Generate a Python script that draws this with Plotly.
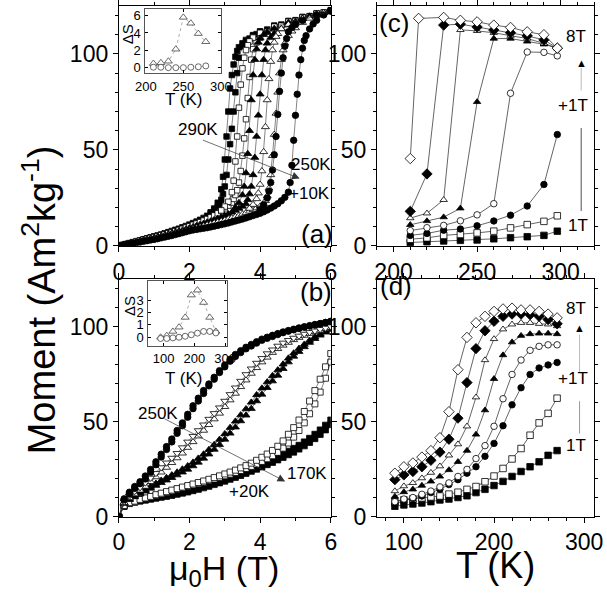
import plotly.graph_objects as go

FONT = "Liberation Sans, Arial, sans-serif"

# ---------------- panel (a): M(H) loops, 290K -> 250K ----------------
a_sq_up_h = [0.0, 0.1, 0.2, 0.3, 0.4, 0.5, 0.6, 0.7, 0.8, 0.9, 1.0, 1.1, 1.2, 1.3, 1.4, 1.5, 1.6, 1.7, 1.8, 1.9,
             2.0, 2.1, 2.2, 2.3, 2.4, 2.5, 2.6, 2.7, 2.8,
             2.85, 2.9, 2.95, 3.0, 3.05, 3.1, 3.15, 3.2, 3.25, 3.3, 3.35, 3.4,
             3.5, 3.6, 3.7, 3.8, 3.9, 4.0,
             4.2, 4.4, 4.6, 4.8, 5.0, 5.2, 5.4, 5.6, 5.8, 6.0]
a_sq_up_m = [0, 0.5, 1.0, 1.5, 2.0, 2.5, 3.0, 3.5, 4.0, 4.5, 5.0, 5.5, 6.0, 6.6, 7.2, 7.8, 8.4, 9.0, 9.7, 10.4,
             11.1, 11.9, 12.7, 13.6, 14.6, 15.7, 17.0, 18.6, 20.5,
             22, 24, 27, 31, 37, 45, 53, 61, 70, 80, 90, 98,
             104, 106.5, 108, 109.3, 110.3, 111.2,
             112.7, 114, 115.3, 116.5, 117.6, 118.7, 119.7, 120.7, 121.7, 122.6]
a_sq_dn_h = [6.0, 5.6, 5.2, 4.8, 4.4, 4.0, 3.8, 3.6, 3.5, 3.4, 3.35, 3.3, 3.25, 3.2, 3.15, 3.1, 3.05, 3.0, 2.95,
             2.9, 2.8, 2.7, 2.6]
a_sq_dn_m = [122.8, 121.2, 119.3, 117.2, 114.8, 111.8, 109.8, 107.3, 105.5, 103.5, 101.5, 98.5, 94.5, 89, 82,
             70, 57, 45, 36, 29.5, 22.5, 19.5, 17.5]

a_osq_up_h = [0.0, 0.1, 0.2, 0.3, 0.4, 0.5, 0.6, 0.7, 0.8, 0.9, 1.0, 1.1, 1.2, 1.3, 1.4, 1.5, 1.6, 1.7, 1.8, 1.9,
              2.0, 2.1, 2.2, 2.3, 2.4, 2.5, 2.6, 2.7, 2.8, 2.9, 3.0, 3.1, 3.2,
              3.25, 3.3, 3.35, 3.4, 3.45, 3.5, 3.55, 3.6, 3.65, 3.7, 3.75, 3.8,
              3.9, 4.0,
              4.2, 4.4, 4.6, 4.8, 5.0, 5.2, 5.4, 5.6, 5.8, 6.0]
a_osq_up_m = [0, 0.45, 0.9, 1.4, 1.85, 2.3, 2.8, 3.25, 3.7, 4.15, 4.6, 5.1, 5.6, 6.1, 6.6, 7.1, 7.7, 8.3, 8.9, 9.6,
              10.3, 11.0, 11.7, 12.4, 13.2, 14.0, 14.9, 15.9, 17.0, 18.2, 19.6, 21.0, 22.6,
              24.5, 26.5, 29, 33, 39, 47, 56, 66, 77, 88, 97, 102.5,
              106, 108.5,
              111.5, 113.2, 114.7, 116, 117.2, 118.3, 119.4, 120.5, 121.5, 122.4]
a_osq_dn_h = [6.0, 5.6, 5.2, 4.8, 4.4, 4.0, 3.8, 3.7, 3.65, 3.6, 3.55, 3.5, 3.45, 3.4, 3.35, 3.3, 3.25, 3.2, 3.1,
              3.0, 2.9]
a_osq_dn_m = [122.5, 121, 119, 116.8, 114.2, 111, 108.5, 106.5, 104.5, 102, 98, 92.5, 84, 72, 57, 44, 34, 28, 23,
              20.5, 18.5]

a_tri_up_h = [0.0, 0.1, 0.2, 0.3, 0.4, 0.5, 0.6, 0.7, 0.8, 0.9, 1.0, 1.1, 1.2, 1.3, 1.4, 1.5, 1.6, 1.7, 1.8, 1.9,
              2.0, 2.1, 2.2, 2.3, 2.4, 2.5, 2.6, 2.7, 2.8, 2.9, 3.0, 3.1, 3.2, 3.3, 3.4, 3.5, 3.6,
              3.65, 3.7, 3.75, 3.8, 3.85, 3.9, 3.95, 4.0, 4.05, 4.1, 4.15, 4.2,
              4.3, 4.4,
              4.6, 4.8, 5.0, 5.2, 5.4, 5.6, 5.8, 6.0]
a_tri_up_m = [0, 0.4, 0.85, 1.3, 1.7, 2.15, 2.6, 3.0, 3.4, 3.8, 4.2, 4.65, 5.1, 5.6, 6.1, 6.6, 7.1, 7.6, 8.1, 8.7,
              9.3, 9.9, 10.5, 11.1, 11.7, 12.3, 12.9, 13.6, 14.3, 15.0, 15.8, 16.6, 17.5, 18.5, 19.5, 20.6, 21.8,
              24, 27, 31, 37, 46, 57, 68, 79, 89, 97, 102, 105.5,
              108.5, 110.5,
              113, 115, 116.8, 118.3, 119.6, 120.7, 121.5, 122.2]
a_tri_dn_h = [6.0, 5.6, 5.2, 4.8, 4.4, 4.2, 4.1, 4.0, 3.95, 3.9, 3.85, 3.8, 3.75, 3.7, 3.65, 3.6, 3.55, 3.5, 3.4, 3.3]
a_tri_dn_m = [122, 120.5, 118.6, 116.3, 113.2, 111.3, 110, 108.2, 106, 102.5, 97, 89, 76, 60, 48, 38, 31, 26.5,
              22.5, 20]

a_otri_up_h = [0.0, 0.1, 0.2, 0.3, 0.4, 0.5, 0.6, 0.7, 0.8, 0.9, 1.0, 1.1, 1.2, 1.3, 1.4, 1.5, 1.6, 1.7, 1.8, 1.9,
               2.0, 2.1, 2.2, 2.3, 2.4, 2.5, 2.6, 2.7, 2.8, 2.9, 3.0, 3.1, 3.2, 3.3, 3.4, 3.5, 3.6, 3.7, 3.8, 3.9,
               4.0, 4.1,
               4.15, 4.2, 4.25, 4.3, 4.35, 4.4, 4.45, 4.5, 4.55, 4.6, 4.65, 4.7,
               4.8, 4.9, 5.0,
               5.2, 5.4, 5.6, 5.8, 6.0]
a_otri_up_m = [0, 0.38, 0.8, 1.2, 1.6, 2.0, 2.4, 2.8, 3.2, 3.55, 3.9, 4.3, 4.7, 5.15, 5.6, 6.05, 6.5, 6.95, 7.4, 7.9,
               8.4, 8.9, 9.4, 9.9, 10.4, 10.9, 11.4, 11.9, 12.4, 12.9, 13.4, 14.0, 14.6, 15.2, 15.8, 16.5, 17.2,
               18.0, 18.8, 19.7, 20.6, 21.6,
               23.5, 26, 30, 37, 47, 58, 69, 80, 90, 97, 102, 105.5,
               109.5, 111.8, 113.5,
               116.3, 118.5, 120.2, 121.4, 122.3]
a_otri_dn_h = [6.0, 5.6, 5.2, 4.8, 4.6, 4.5, 4.45, 4.4, 4.35, 4.3, 4.25, 4.2, 4.15, 4.1, 4.05, 4.0, 3.95, 3.9, 3.8,
               3.7]
a_otri_dn_m = [122.3, 120.5, 118.3, 115.3, 113, 110.5, 109, 106, 102, 96, 87, 76, 62, 49, 39, 32, 27.5, 24.5,
               21.5, 19.5]

a_circ_up_h = [0.0, 0.1, 0.2, 0.3, 0.4, 0.5, 0.6, 0.7, 0.8, 0.9, 1.0, 1.1, 1.2, 1.3, 1.4, 1.5, 1.6, 1.7, 1.8, 1.9,
               2.0, 2.1, 2.2, 2.3, 2.4, 2.5, 2.6, 2.7, 2.8, 2.9, 3.0, 3.1, 3.2, 3.3, 3.4, 3.5, 3.6, 3.7, 3.8, 3.9,
               4.0, 4.1, 4.2, 4.3, 4.4, 4.5, 4.6, 4.7, 4.8,
               4.85, 4.9, 4.95, 5.0, 5.05, 5.1, 5.15, 5.2, 5.25,
               5.3, 5.4, 5.5, 5.6, 5.8, 6.0]
a_circ_up_m = [0, 0.35, 0.7, 1.05, 1.4, 1.75, 2.05, 2.4, 2.75, 3.1, 3.4, 3.8, 4.2, 4.6, 5.0, 5.4, 5.9, 6.4, 6.9, 7.4,
               7.9, 8.3, 8.6, 8.9, 9.2, 9.5, 9.9, 10.3, 10.7, 11.1, 11.5, 12.0, 12.5, 13.0, 13.5, 14.0, 14.6, 15.2,
               15.8, 16.4, 17.0, 17.8, 18.7, 19.7, 20.8, 22.0, 23.5, 25.3, 28.0,
               33, 42, 55, 68, 79, 89, 97, 103, 107,
               109.5, 113, 115.6, 117.5, 120.3, 122.3]
a_circ_dn_h = [6.0, 5.6, 5.2, 5.0, 4.9, 4.8, 4.75, 4.7, 4.65, 4.6, 4.55, 4.5, 4.45, 4.4, 4.35, 4.3, 4.25, 4.2, 4.1,
               4.0]
a_circ_dn_m = [122.3, 120.2, 117.4, 115.3, 113.7, 111.5, 108, 104, 98, 90, 80.5, 68.5, 57, 47.5, 39.5, 33, 28.5,
               25, 21.5, 19]

# inset (a): entropy change
ins_a_t = [210, 220, 230, 240, 250, 260, 270, 280]
ins_a_tri = [0.48, 0.56, 0.74, 2.13, 5.8, 5.12, 3.93, 2.99]
ins_a_circ = [0.05, 0.05, 0.0, 0.0, 0.0, 0.05, 0.1, 0.2]

# ---------------- panel (b): M(H), 250K -> 170K ----------------
b_h = [0.0, 0.15, 0.3, 0.45, 0.6, 0.75, 0.9, 1.05, 1.2, 1.35, 1.5, 1.65, 1.8, 1.95, 2.1, 2.25, 2.4, 2.55, 2.7,
       2.85, 3.0, 3.15, 3.3, 3.45, 3.6, 3.75, 3.9, 4.05, 4.2, 4.35, 4.5, 4.65, 4.8, 4.95, 5.1, 5.25, 5.4, 5.55,
       5.7, 5.85, 6.0]
b_circ_up = [0, 9, 12, 15, 17.5, 20, 23.5, 27.5, 31.5, 35.5, 39.5, 44, 48, 52.5, 57, 61, 65, 69, 72.5, 76,
             79, 82, 84.5, 86.5, 88.5, 90, 91.5, 93, 94, 95, 96, 97, 97.8, 98.5, 99.2, 99.9, 100.5, 101.1, 101.7,
             102.3, 102.9]
b_circ_dn = [0, 9.5, 13, 16, 18.5, 21.5, 25, 29, 33, 37, 41, 45.5, 49.5, 54, 58.5, 62.5, 66.5, 70, 73.5, 77,
             80, 83, 85.5, 87.5, 89.3, 90.8, 92.2, 93.6, 94.6, 95.6, 96.5, 97.4, 98.1, 98.8, 99.5, 100.1, 100.7,
             101.3, 101.8, 102.4, 103]
b_otri_up = [0, 7.5, 10, 12, 14, 16, 18.5, 21, 23.5, 26, 28.5, 31, 33.5, 36.5, 39.5, 42.5, 45.5, 48.5, 51.5, 54.5,
             58, 61.5, 65, 68.5, 72, 75.5, 78.5, 81.5, 84, 86.5, 88.5, 90.3, 91.8, 93.2, 94.4, 95.5, 96.5, 97.4,
             98.2, 99, 99.7]
b_otri_dn = [0, 8, 11, 13.5, 15.5, 18, 20.5, 23, 26, 28.5, 31, 33.5, 36.5, 39.5, 42.5, 45.5, 48.5, 51.5, 54.5,
             57.5, 61, 64.5, 68, 71.5, 75, 78, 81, 83.5, 86, 88, 90, 91.6, 93, 94.2, 95.3, 96.3, 97.2, 98, 98.8,
             99.5, 100.2]
b_tri_up = [0, 7, 9, 10.5, 12, 13.5, 15, 16.5, 18, 19.3, 20.6, 22, 23.5, 25, 26.8, 28.7, 30.8, 33, 35.5, 38,
            40.8, 44, 47.2, 50.5, 53.5, 57, 61, 64.5, 68, 71.5, 74.5, 78, 81.5, 84.5, 87, 89.5, 91.8, 93.8, 95.6,
            97.2, 98.6]
b_tri_dn = [0, 7.5, 9.5, 11.3, 12.8, 14.3, 16, 17.6, 19.2, 20.6, 22, 23.5, 25.1, 26.8, 28.7, 30.8, 33, 35.4, 38,
            40.7, 43.7, 47, 50.3, 53.6, 56.8, 60.3, 64.2, 67.7, 71, 74.3, 77.3, 80.4, 83.5, 86.2, 88.6, 90.8, 92.9,
            94.7, 96.3, 97.8, 99]
b_osq_dn = [0, 6, 7.5, 8.3, 9.2, 10, 10.8, 11.7, 12.5, 13.3, 14.1, 14.9, 15.7, 16.5, 17.3, 18.1, 18.9, 19.8,
            20.7, 21.6, 22.6, 23.6, 24.6, 25.8, 27, 28.3, 29.8, 31.4, 33.1, 35, 37.2, 40, 43.5, 47, 51, 55.5, 61,
            66.5, 72.5, 79, 86]
b_osq_up = [0, 5.8, 7.2, 8, 8.9, 9.7, 10.5, 11.3, 12.1, 12.9, 13.7, 14.5, 15.3, 16, 16.8, 17.5, 18.3, 19.1,
            19.9, 20.7, 21.6, 22.5, 23.4, 24.4, 25.5, 26.6, 27.8, 29.2, 30.6, 32.2, 34, 36.2, 38.9, 42, 45.5,
            49.5, 54.3, 59.5, 65.7, 73, 81.5]
b_sq_up = [0, 5.5, 7, 7.7, 8.3, 8.8, 9.3, 9.8, 10.3, 10.8, 11.3, 11.9, 12.5, 13.1, 13.8, 14.5, 15.3, 16.1, 17,
           17.9, 18.8, 19.8, 20.8, 21.8, 22.9, 24, 25.1, 26.3, 27.5, 28.7, 30, 31.3, 32.7, 34.1, 35.7, 37.4, 39.2,
           41.2, 43.4, 45.8, 48.5]
b_sq_dn = [0, 6, 7.5, 8.2, 8.8, 9.3, 9.8, 10.3, 10.8, 11.4, 12, 12.6, 13.2, 13.9, 14.6, 15.4, 16.2, 17.1, 18,
           19, 20, 21, 22, 23.1, 24.2, 25.4, 26.6, 27.8, 29.1, 30.4, 31.7, 33.1, 34.6, 36.1, 37.7, 39.5, 41.4,
           43.5, 45.8, 48.3, 51]

# inset (b)
ins_b_t = [90, 110, 130, 150, 170, 190, 210, 230, 250, 270]
ins_b_tri = [0.0, 0.13, 0.47, 0.81, 1.6, 3.4, 3.8, 2.8, 1.6, 0.47]
ins_b_circ = [-0.1, -0.1, -0.05, 0.0, 0.08, 0.2, 0.33, 0.47, 0.47, 0.35]

# ---------------- panel (c): M(T), 1T..8T ----------------
c_t = [210, 220, 230, 240, 250, 260, 270, 280, 290, 298]
c_t_8t = [210, 215, 230, 240, 250, 260, 270, 280, 290, 298]
c_1t = [1.8, 2.2, 2.6, 2.9, 3.1, 3.7, 4.3, 4.8, 5.5, 7.7]
c_2t = [3.5, 4.2, 5.5, 6.0, 6.8, 7.7, 9.4, 11.1, 12.8, 15.7]
c_3t = [5.5, 6.5, 8.2, 8.8, 10.5, 13, 16, 20.8, 32, 58]
c_4t = [8, 9.5, 10.7, 13.1, 16.2, 22, 79.5, 101, 100.8, 99]
c_5t = [11, 13, 15, 19.6, 75, 108, 108, 106.5, 105, 103]
c_6t = [14.5, 17, 24, 112.5, 112, 111, 109.5, 108, 105.5, 103]
c_7t = [18, 37.5, 115, 115.5, 114, 112.4, 111, 109.4, 107.3, 103]
c_8t = [45.5, 118.5, 119, 117.5, 116.7, 115, 113.8, 111.5, 110, 103]

# ---------------- panel (d): M(T), 1T..8T ----------------
d_t = [90, 100, 110, 120, 130, 140, 150, 160, 170, 180, 190, 200, 210, 220, 230, 240, 250, 260, 270]
d_1t = [5.6, 6.3, 6.8, 7.3, 8.0, 8.9, 9.4, 10.2, 11.1, 12.8, 14.5, 16.5, 18.7, 21.3, 23.9, 26.4, 29.0, 32.4, 34.9]
d_2t = [8, 9, 9.5, 10, 10.5, 11, 12, 13, 14.5, 16, 18.5, 21.5, 25.5, 30.5, 36, 43, 49.5, 54.5, 62.5]
d_3t = [6.8, 8.5, 9.7, 11, 12.8, 14.5, 17, 19.6, 23, 26.4, 31.9, 38.7, 48, 59, 68, 75, 78.4, 80, 81.3]
d_4t = [8.0, 9.4, 10.2, 11.9, 13.6, 15.8, 17.9, 21.3, 25, 30.7, 37.5, 47.7, 62.2, 75, 82.6, 87.7, 89.8, 90.6, 90.6]
d_5t = [10.7, 13.1, 14.5, 16.5, 18.7, 21.3, 24.7, 29, 34.9, 43.4, 56.2, 72.7, 85.2, 92, 95.4, 96.3, 96.6, 96.6,
        96.3]
d_6t = [13.6, 16.2, 17.9, 20.4, 23.3, 26.7, 32.4, 38.3, 47.7, 63, 82.6, 93.7, 98.8, 101.4, 102.2, 102.2, 101.7,
        101.4, 100.5]
d_7t = [19.6, 22.1, 23.9, 26.4, 29.8, 34.1, 40.9, 52, 70.7, 88.6, 98, 103, 105.6, 106.8, 106.8, 106.5, 105.6,
        103.9, 101.7]
d_8t = [23, 26.4, 28.4, 31.5, 34.9, 41.7, 55.4, 77.5, 94.5, 102.2, 105.6, 108.2, 109.5, 109.9, 109, 109, 108.2,
        106.8, 104.8]

fig = go.Figure()


def add(xs, ys, sym, filled, size, xa, ya, lc="#333", lw=0.6, dash="solid", mlc="black"):
    fig.add_trace(go.Scatter(
        x=xs, y=ys, mode="lines+markers", xaxis=xa, yaxis=ya, showlegend=False, hoverinfo="skip",
        line=dict(color=lc, width=lw, dash=dash),
        marker=dict(symbol=sym, size=size, color="black" if filled else "white",
                    line=dict(color=mlc, width=0.8))))


# (a)
for (h, m) in [(a_sq_up_h, a_sq_up_m), (a_sq_dn_h, a_sq_dn_m)]:
    add(h, m, "square", True, 5.5, "x", "y")
for (h, m) in [(a_osq_up_h, a_osq_up_m), (a_osq_dn_h, a_osq_dn_m)]:
    add(h, m, "square", False, 5.5, "x", "y")
for (h, m) in [(a_tri_up_h, a_tri_up_m), (a_tri_dn_h, a_tri_dn_m)]:
    add(h, m, "triangle-up", True, 7, "x", "y")
for (h, m) in [(a_otri_up_h, a_otri_up_m), (a_otri_dn_h, a_otri_dn_m)]:
    add(h, m, "triangle-up", False, 7, "x", "y")
for (h, m) in [(a_circ_up_h, a_circ_up_m), (a_circ_dn_h, a_circ_dn_m)]:
    add(h, m, "circle", True, 6.5, "x", "y")

add(ins_a_t, ins_a_tri, "triangle-up", False, 7, "x5", "y5", lc="#888", lw=0.7, dash="dot", mlc="#444")
add(ins_a_t, ins_a_circ, "circle", False, 6, "x5", "y5", lc="#888", lw=0.7, dash="dot", mlc="#444")

# (b)
add(b_h, b_sq_up, "square", True, 6, "x2", "y2")
add(b_h, b_sq_dn, "square", True, 6, "x2", "y2")
add(b_h, b_osq_up, "square", False, 6, "x2", "y2")
add(b_h, b_osq_dn, "square", False, 6, "x2", "y2")
add(b_h, b_tri_up, "triangle-up", True, 7, "x2", "y2")
add(b_h, b_tri_dn, "triangle-up", True, 7, "x2", "y2")
add(b_h, b_otri_up, "triangle-up", False, 7, "x2", "y2")
add(b_h, b_otri_dn, "triangle-down", False, 7, "x2", "y2")
add(b_h, b_circ_up, "circle", True, 6.5, "x2", "y2")
add(b_h, b_circ_dn, "circle", True, 6.5, "x2", "y2")

add(ins_b_t, ins_b_tri, "triangle-up", False, 7, "x6", "y6", lc="#888", lw=0.7, dash="dot", mlc="#444")
add(ins_b_t, ins_b_circ, "circle", False, 6, "x6", "y6", lc="#888", lw=0.7, dash="dot", mlc="#444")

# (c) and (d)
series_c = [(c_t, c_1t, "square", True), (c_t, c_2t, "square", False), (c_t, c_3t, "circle", True),
            (c_t, c_4t, "circle", False), (c_t, c_5t, "triangle-up", True), (c_t, c_6t, "triangle-up", False),
            (c_t, c_7t, "diamond", True), (c_t_8t, c_8t, "diamond", False)]
for t, m, sym, filled in series_c:
    add(t, m, sym, filled, 8 if sym == "diamond" else 6.5, "x3", "y3", lc="#222", lw=0.7)

series_d = [(d_1t, "square", True), (d_2t, "square", False), (d_3t, "circle", True), (d_4t, "circle", False),
            (d_5t, "triangle-up", True), (d_6t, "triangle-up", False), (d_7t, "diamond", True),
            (d_8t, "diamond", False)]
for m, sym, filled in series_d:
    add(d_t, m, sym, filled, 8 if sym == "diamond" else 6.5, "x4", "y4", lc="#222", lw=0.7)


def ax(rng, dom, anchor, tickvals, minor=None, size=23, ins=False):
    d = dict(range=rng, domain=dom, anchor=anchor, tickvals=tickvals, showline=True,
             linecolor="#555" if ins else "black", linewidth=0.8 if ins else 1, mirror="ticks",
             ticks="inside" if ins else "outside", ticklen=3 if ins else 5, tickwidth=1, tickcolor="black",
             showgrid=False, zeroline=False, tickfont=dict(size=size, family=FONT, color="black"))
    if ins:
        d["ticklabelstandoff"] = 1
    if minor is not None:
        d["minor"] = dict(dtick=minor, ticklen=3, ticks="outside", tickcolor="black", showgrid=False)
    return d


xl = [0.1857, 0.5474]
xr = [0.626, 0.9967]
yt = [0.5904, 0.9918]
yb = [0.1373, 0.5343]

fig.update_layout(
    width=607, height=612, margin=dict(l=0, r=0, t=0, b=0),
    paper_bgcolor="white", plot_bgcolor="white",
    font=dict(family=FONT, color="black"),
    xaxis=ax([0, 6], xl, "y", [0, 2, 4, 6], 1),
    yaxis=ax([0, 125], yt, "x", [0, 50, 100], 10),
    xaxis2=ax([0, 6], xl, "y2", [0, 2, 4, 6], 1),
    yaxis2=ax([0, 125], yb, "x2", [0, 50, 100], 10),
    xaxis3=ax([190, 320], xr, "y3", [200, 250, 300], 10),
    yaxis3=ax([0, 125], yt, "x3", [0, 50, 100], 10),
    xaxis4=ax([70, 311], xr, "y4", [100, 200, 300], 20),
    yaxis4=ax([0, 125], yb, "x4", [0, 50, 100], 10),
    xaxis5=ax([199, 300], [0.2306, 0.3597], "y5", [200, 250, 300], size=13, ins=True),
    yaxis5=ax([-0.65, 6.75], [0.8791, 0.9864], "x5", [0, 2, 4, 6], size=13, ins=True),
    xaxis6=ax([50, 307], [0.2361, 0.3707], "y6", [100, 200, 300], size=13, ins=True),
    yaxis6=ax([-0.7, 4.5], [0.4232, 0.5310], "x6", [0, 1, 2, 3], size=13, ins=True),
)

ann = []


def txt(x, y, s, size=17, xref="paper", yref="paper", angle=0):
    ann.append(dict(x=x, y=y, xref=xref, yref=yref, text=s, showarrow=False, textangle=angle,
                    font=dict(size=size, family=FONT, color="black"), xanchor="center", yanchor="middle"))


txt(0.05, 0.5, "Moment (Am<sup>2</sup>kg<sup>-1</sup>)", size=38, angle=-90)
txt(0.366, 0.048, "\u03bc<sub>0</sub>H (T)", size=34)
txt(0.829, 0.056, "T (K)", size=36)

txt(0.524, 0.611, "(a)", size=26)
txt(0.522, 0.513, "(b)", size=26)
txt(0.656, 0.964, "(c)", size=26)
txt(0.659, 0.523, "(d)", size=26)

txt(2.25, 60.4, "290K", xref="x", yref="y")
txt(5.44, 42.6, "250K", xref="x", yref="y")
txt(5.39, 27.3, "+10K", xref="x", yref="y")
txt(1.11, 54.7, "250K", xref="x2", yref="y2")
txt(5.34, 23, "170K", xref="x2", yref="y2")
txt(3.7, 13.5, "+20K", xref="x2", yref="y2")

# inset titles
txt(0.2965, 0.835, "T (K)", size=17)
txt(0.202, 0.945, "\u0394S", size=15, angle=-90)
txt(0.2965, 0.368, "T (K)", size=17)
txt(0.204, 0.489, "\u0394S", size=15, angle=-90)

# field labels on the right panels
txt(309.4, 108.9, "8T", xref="x3", yref="y3")
txt(312.3, 95.5, "\u25b2", size=11, xref="x3", yref="y3")
txt(307.4, 73.3, "+1T", xref="x3", yref="y3")
txt(310.3, 10.5, "1T", xref="x3", yref="y3")
txt(291.4, 109.7, "8T", xref="x4", yref="y4")
txt(294.9, 99.3, "\u25b2", size=11, xref="x4", yref="y4")
txt(287.8, 72.8, "+1T", xref="x4", yref="y4")
txt(291.4, 37.7, "1T", xref="x4", yref="y4")

# temperature-step arrows
ann.append(dict(x=5.12, y=35.1, ax=2.34, ay=55.4, xref="x", yref="y", axref="x", ayref="y", text="",
                showarrow=True, arrowhead=2, arrowsize=2.2, arrowwidth=0.7, arrowcolor="#333"))
ann.append(dict(x=4.71, y=18.7, ax=1.25, ay=52.1, xref="x2", yref="y2", axref="x2", ayref="y2", text="",
                showarrow=True, arrowhead=2, arrowsize=2.2, arrowwidth=0.7, arrowcolor="#333"))
fig.update_layout(annotations=ann)

shapes = [
    dict(type="line", xref="x3", yref="y3", x0=312.3, x1=312.3, y0=80.9, y1=92.8, line=dict(color="#bbb", width=1)),
    dict(type="line", xref="x3", yref="y3", x0=312.3, x1=312.3, y0=18.2, y1=61.4, line=dict(color="#222", width=0.8)),
    dict(type="line", xref="x4", yref="y4", x0=294.9, x1=294.9, y0=76.3, y1=96, line=dict(color="#bbb", width=1)),
    dict(type="line", xref="x4", yref="y4", x0=294.9, x1=294.9, y0=43.9, y1=60.9, line=dict(color="#999", width=1)),
]
fig.update_layout(shapes=shapes)

fig.write_html("out.html", config={"displayModeBar": False},
               post_script="document.body.style.margin='0';document.body.style.overflow='hidden';")
